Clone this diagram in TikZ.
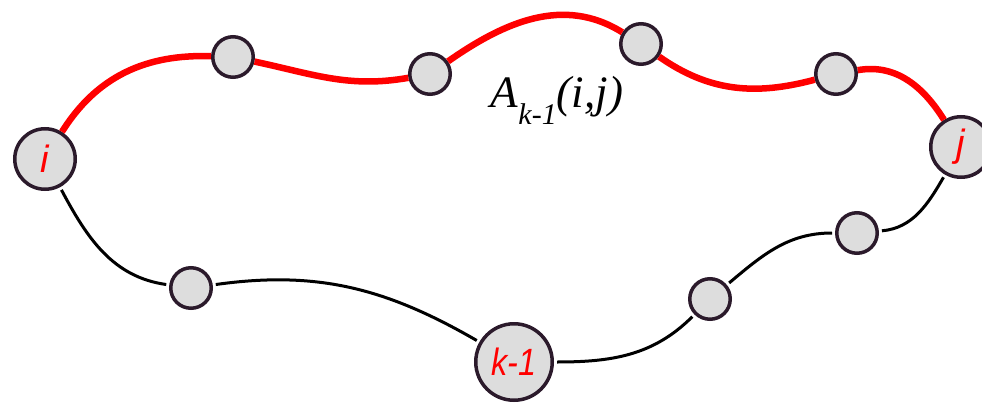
\documentclass[tikz,border=0pt]{standalone}
\usepackage{fontspec}
\newfontfamily\vxfont{Liberation Sans}
\newfontfamily\pathfont{Liberation Serif}
\usepackage{graphicx}
\usepackage{xcolor}
\definecolor{VXfill}{HTML}{DDDDDD}
\definecolor{VXedge}{HTML}{2B1A2B}
\definecolor{PathRed}{HTML}{FF0000}
\usetikzlibrary{positioning}

\begin{document}
\begin{tikzpicture}[x=1pt, y=1pt,
  vtx/.style={circle, draw=VXedge, line width=3.5pt, fill=VXfill, inner sep=0pt, minimum size=40.5pt},
  endvtx/.style={vtx, minimum size=60.5pt, text=PathRed, font=\vxfont\itshape\fontsize{38}{40}\selectfont},
  redarc/.style={draw=PathRed, line width=6.5pt},
  blkarc/.style={draw=black, line width=3pt, shorten <=3pt, shorten >=3pt}
]
\useasboundingbox (0,0) rectangle (982,-404);

% end points and the middle vertex
\node[endvtx] (vi) at (45,-159) {i};
\node[endvtx] (vj) at (961,-147) {j};
\node[endvtx, minimum size=76.5pt] (vk) at (514,-362) {\scalebox{0.85}[1]{k-1}};

% upper path A_{k-1}(i,j)
\node[vtx] (u1) at (233,-57) {};
\node[vtx] (u2) at (430,-74) {};
\node[vtx] (u3) at (641,-44) {};
\node[vtx] (u4) at (836,-74) {};

% lower path through k-1
\node[vtx] (l1) at (191,-288) {};
\node[vtx] (l2) at (710,-299) {};
\node[vtx] (l3) at (857,-233) {};

\node (akij) at (557,-100) {\pathfont\fontsize{45}{48}\selectfont\itshape A\raisebox{-17pt}{\fontsize{30}{32}\selectfont k-1}(i,j)};

\draw[redarc] (vi) to[out=58, in=178] (u1);
\draw[redarc] (u1) to[out=-12, in=190] (u2);
\draw[redarc] (u2) to[out=35, in=148] (u3);
\draw[redarc] (u3) to[out=-35, in=195] (u4);
\draw[redarc] (u4) to[out=10, in=122] (vj);

\draw[blkarc] (vi) to[out=-62, in=172] (l1);
\draw[blkarc] (l1) to[out=8, in=150] (vk);
\draw[blkarc] (vk) to[out=0, in=225] (l2);
\draw[blkarc] (l2) to[out=40, in=180] (l3);
\draw[blkarc] (l3) to[out=5, in=240] (vj);
\end{tikzpicture}
\end{document}
